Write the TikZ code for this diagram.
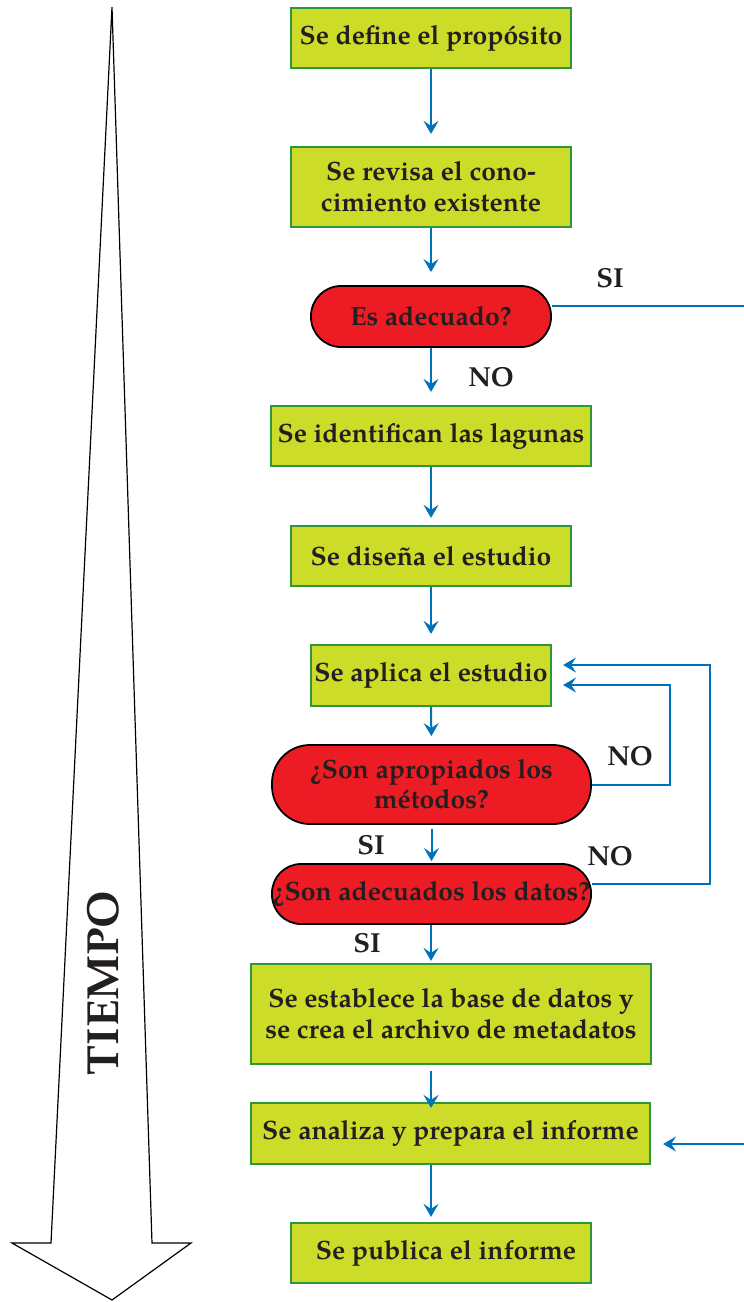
\documentclass[tikz,border=0pt]{standalone}
\usepackage{fontspec}
\setmainfont{TeX Gyre Pagella}
\usetikzlibrary{arrows.meta}

\definecolor{verdecaja}{RGB}{204,220,40}
\definecolor{bordecaja}{RGB}{46,150,60}
\definecolor{rojopreg}{RGB}{237,28,36}
\definecolor{azulflecha}{RGB}{0,114,188}
\definecolor{tinta}{RGB}{35,31,32}

\tikzset{
    paso/.style={draw=bordecaja, line width=2.2pt, fill=verdecaja, text=tinta,
        align=center, inner sep=0pt, font=\fontsize{26.5}{31}\selectfont\bfseries},
    pregunta/.style={draw=black, line width=1.8pt, fill=rojopreg, text=tinta,
        align=center, inner sep=0pt, font=\fontsize{26.5}{30}\selectfont\bfseries},
    flecha/.style={draw=azulflecha, line width=2pt,
        -{Stealth[length=13pt,width=15pt,inset=5pt]}},
    linea/.style={draw=azulflecha, line width=2pt},
    rotulo/.style={text=tinta, font=\fontsize{27.5}{30}\selectfont\bfseries}
}

\begin{document}
\begin{tikzpicture}[x=1pt,y=-1pt]

    \useasboundingbox (0,0) rectangle (744,1302);

    % Flecha del tiempo
    \draw[line width=1.2pt, fill=white, line join=miter]
        (112,7) -- (51,1243) -- (12,1243) -- (112,1300)
        -- (191,1243) -- (152,1243) -- cycle;
    \node[rotate=90, text=tinta, font=\fontsize{45}{45}\selectfont\bfseries]
        (tiempo) at (103,983) {TIEMPO};

    % Pasos del estudio
    \node[paso, minimum width=280pt, minimum height=60pt] (proposito) at (431,38)
        {Se define el propósito};
    \node[paso, minimum width=280pt, minimum height=80pt] (revisa) at (431,187)
        {Se revisa el cono-\\cimiento existente};
    \node[pregunta, minimum width=240pt, minimum height=61pt, rounded corners=30pt]
        (adecuado) at (431,316.5) {Es adecuado?};
    \node[paso, minimum width=320pt, minimum height=60pt] (lagunas) at (431,436)
        {Se identifican las lagunas};
    \node[paso, minimum width=280pt, minimum height=60pt] (disena) at (431,556)
        {Se diseña el estudio};
    \node[paso, minimum width=240pt, minimum height=61pt] (aplica) at (431,675.5)
        {Se aplica el estudio};
    \node[pregunta, minimum width=319pt, minimum height=79pt, rounded corners=38pt]
        (metodos) at (431.5,784.5) {¿Son apropiados los\\métodos?};
    \node[pregunta, minimum width=319pt, minimum height=60pt, rounded corners=29pt]
        (datos) at (431.5,894) {¿Son adecuados los datos?};
    \node[paso, minimum width=400pt, minimum height=100pt] (base) at (451,1014)
        {Se establece la base de datos y\\se crea el archivo de metadatos};
    \node[paso, minimum width=399pt, minimum height=61pt] (analiza) at (450.5,1133.5)
        {Se analiza y prepara el informe};
    \node[paso, minimum width=300pt, minimum height=60pt] (publica) at (441,1253)
        {\hspace{10pt}Se publica el informe};

    % Eje de las flechas y bordes
    \coordinate (eje) at (431,0);
    \coordinate (lazoA) at (670,0);
    \coordinate (lazoB) at (710,0);
    \coordinate (bordeSI) at (744,306);
    \coordinate (bordeIN) at (744,1144);

    % Flechas principales
    \draw[flecha, shorten >=12pt] (proposito.south) -- (revisa.north);
    \draw[flecha, shorten >=13pt] (revisa.south) -- (adecuado.north);
    \draw[flecha, shorten >=13pt] (adecuado.south) -- (lagunas.north);
    \draw[flecha, shorten >=7pt] (lagunas.south) -- (disena.north);
    \draw[flecha, shorten >=10pt] (disena.south) -- (aplica.north);
    \draw[flecha, shorten >=8pt] (aplica.south) -- (metodos.north);
    \draw[flecha, shorten <=4pt, shorten >=2pt] (metodos.south) -- (datos.north);
    \draw[flecha, shorten >=2pt] (datos.south -| eje) -- (base.north -| eje);
    \draw[flecha, shorten <=6pt, shorten >=-6pt] (base.south -| eje) -- (analiza.north -| eje);
    \draw[flecha, shorten >=5pt] (analiza.south -| eje) -- (publica.north -| eje);

    % Lazos de retorno
    \draw[flecha] (metodos.east) -- (metodos.east -| lazoA)
        |- ([xshift=11pt,yshift=-9.5pt]aplica.east);
    \draw[flecha] ([yshift=10pt]datos.east) -- ([yshift=10pt]datos.east -| lazoB)
        |- ([xshift=11pt,yshift=10.5pt]aplica.east);

    % Salida SI hacia el informe
    \draw[linea] ([yshift=10.5pt]adecuado.east) -- (bordeSI);
    \draw[flecha] (bordeIN) -- ([xshift=12pt,yshift=-10.5pt]analiza.east);

    % Rotulos
    \node[rotulo] (si1) at (610,278) {SI};
    \node[rotulo] (no1) at (491,377) {NO};
    \node[rotulo] (no2) at (630,756) {NO};
    \node[rotulo] (si2) at (371,845) {SI};
    \node[rotulo] (no3) at (610,856) {NO};
    \node[rotulo] (si3) at (367,943) {SI};

\end{tikzpicture}
\end{document}
